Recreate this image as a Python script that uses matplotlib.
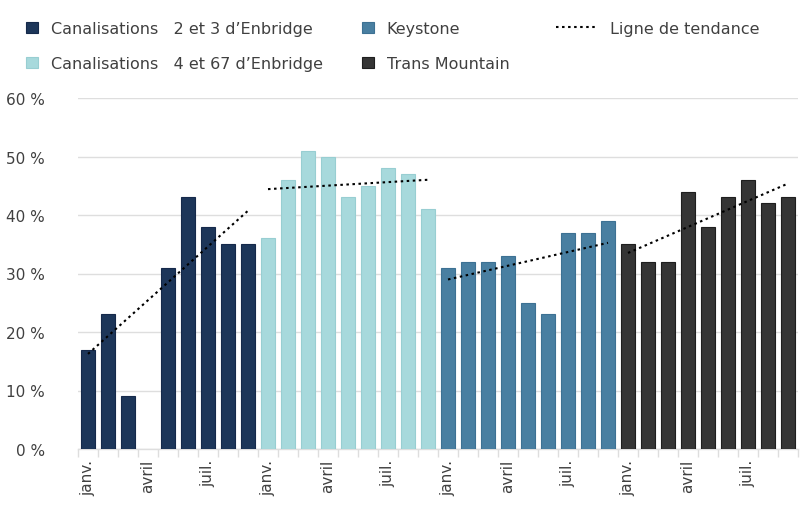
import numpy as np
import matplotlib
matplotlib.use("Agg")
import matplotlib.pyplot as plt
from matplotlib.lines import Line2D
from matplotlib.patches import Patch

plt.rcParams['font.family'] = ['DejaVu Sans']

# ---- data ----
month_labels = ['janv.', '', '', 'avril', '', '', 'juil.', '', '']
series_names = ['Canalisations   2 et 3 d\u2019Enbridge',
                'Canalisations   4 et 67 d\u2019Enbridge',
                'Keystone',
                'Trans Mountain']
enbridge_23 = [17, 23, 9, None, 31, 43, 38, 35, 35]
enbridge_467 = [36, 46, 51, 50, 43, 45, 48, 47, 41]
keystone = [31, 32, 32, 33, 25, 23, 37, 37, 39]
trans_mountain = [35, 32, 32, 44, 38, 43, 46, 42, 43]
trend_label = 'Ligne de tendance'
y_ticks = [0, 10, 20, 30, 40, 50, 60]

series = [enbridge_23, enbridge_467, keystone, trans_mountain]
colors = ['#1d3659', '#a7d9dc', '#497fa1', '#353535']
edges = ['#15294a', '#98ced2', '#3d7193', '#1e1e1e']

fig = plt.figure(figsize=(8, 5.06), dpi=100)
ax = fig.add_axes([78/800, 1-450/506, 720/800, (450-99)/506])

text_color = '#404040'
grid_color = '#dedede'

n = len(month_labels)
all_labels = []
for gi, (vals, c, ec) in enumerate(zip(series, colors, edges)):
    xs = np.arange(n) + gi * n
    xv = [x for x, v in zip(xs, vals) if v is not None]
    yv = [v for v in vals if v is not None]
    ax.bar(xv, yv, width=0.66, color=c, edgecolor=ec, linewidth=0.8, zorder=3)
    # linear trend
    p = np.polyfit(xv, yv, 1)
    tx = np.array([xs[0], xs[-1]])
    ax.plot(tx, np.polyval(p, tx), color='black', linestyle=(0, (1.2, 1.7)),
            linewidth=1.5, zorder=4)
    all_labels += month_labels

total = n * len(series)
ax.set_xlim(-0.5, total - 0.5)
ax.set_ylim(0, 60)
ax.set_yticks(y_ticks)
ax.set_yticklabels([f'{v} %' for v in y_ticks], color=text_color, fontsize=11)
ax.tick_params(axis='y', length=0, pad=24)

ax.set_xticks(np.arange(total))
ax.set_xticklabels(all_labels, rotation=90, color=text_color, fontsize=11,
                   va='top', ha='center')
ax.tick_params(axis='x', which='major', length=0, pad=7)
ax.set_xticks(np.arange(total + 1) - 0.5, minor=True)
ax.tick_params(axis='x', which='minor', length=6, color=grid_color, width=1)

ax.grid(axis='y', color=grid_color, linewidth=1.0, zorder=0)
ax.set_axisbelow(True)
for s in ['top', 'right', 'left']:
    ax.spines[s].set_visible(False)
ax.spines['bottom'].set_color(grid_color)
ax.spines['bottom'].set_linewidth(1.0)

# ---- legends ----
def sq(c, ec):
    return Patch(facecolor=c, edgecolor=ec, linewidth=0.8)

leg_kw = dict(frameon=False, fontsize=11.5, labelcolor=text_color,
              handlelength=0.75, handleheight=0.75, handletextpad=0.8,
              labelspacing=1.25, borderaxespad=0, borderpad=0)
anchor_y = 1 - 22/506
l1 = fig.legend([sq(colors[0], edges[0]), sq(colors[1], edges[1])],
                series_names[:2], loc='upper left',
                bbox_to_anchor=(26/800, anchor_y), **leg_kw)
l2 = fig.legend([sq(colors[2], edges[2]), sq(colors[3], edges[3])],
                series_names[2:], loc='upper left',
                bbox_to_anchor=(362/800, anchor_y), **leg_kw)
kw3 = dict(leg_kw)
kw3['handlelength'] = 2.6
l3 = fig.legend([Line2D([], [], color='black', linestyle=(0, (1.2, 1.7)), linewidth=1.5)],
                [trend_label], loc='upper left',
                bbox_to_anchor=(556/800, anchor_y), **kw3)

fig.savefig('out.png', dpi=100, facecolor='white')
